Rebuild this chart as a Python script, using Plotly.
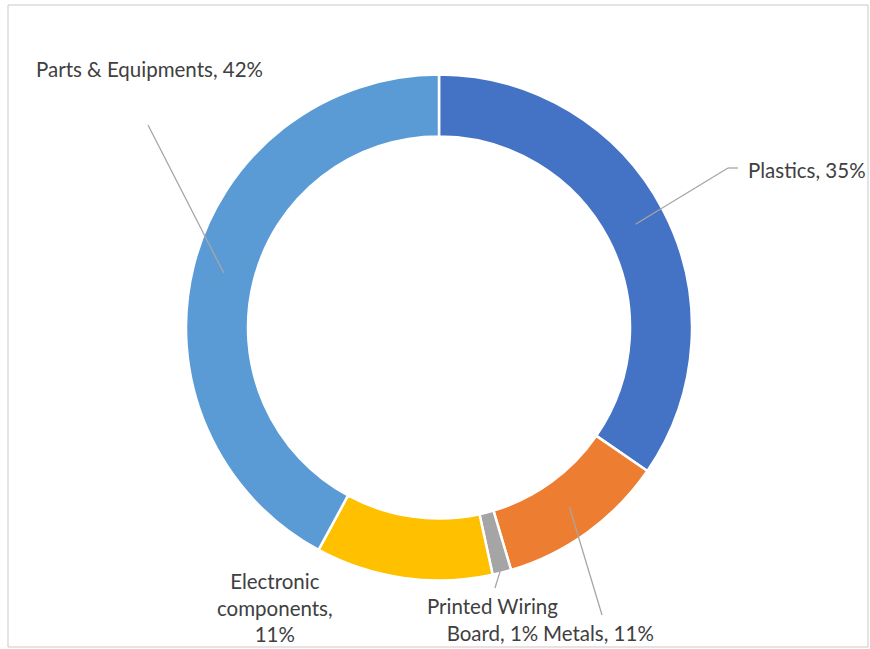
import math
import plotly.graph_objects as go

labels = ["Plastics", "Metals", "Printed Wiring Board", "Electronic components", "Parts & Equipments"]
values = [34.6, 10.8, 1.2, 11.3, 42.1]
colors = ["#4472C4", "#ED7D31", "#A5A5A5", "#FFC000", "#5B9BD5"]
label_texts = ["Plastics, 35%", "Metals, 11%", "Printed Wiring<br>Board, 1%",
               "Electronic<br>components,<br>11%", "Parts & Equipments, 42%"]

W, H = 870, 649
CX, CY, R = 439, 327.5, 253
HOLE = 0.755
FONT = "Lato"
FS = 20.5
TXT = "#404040"
LINE = "#A6A6A6"

def px(x):
    return x / W

def py(y):
    return 1 - y / H

fig = go.Figure(go.Pie(
    labels=labels, values=values, sort=False, direction="clockwise", rotation=0,
    hole=HOLE, marker=dict(colors=colors, line=dict(color="white", width=2.5)),
    textinfo="none", hoverinfo="label+percent", showlegend=False,
    domain=dict(x=[px(CX - R), px(CX + R)], y=[py(CY + R), py(CY - R)]),
))

# mid-angle of each slice (degrees clockwise from 12 o'clock)
total = sum(values)
mids = []
acc = 0
for v in values:
    mids.append((acc + v / 2) / total * 360)
    acc += v

def on_ring(i, r):
    a = math.radians(mids[i])
    return CX + r * math.sin(a), CY - r * math.cos(a)

shapes = [dict(type="rect", xref="paper", yref="paper", x0=px(8), x1=px(868),
               y0=py(647), y1=py(5), line=dict(color="#C9C9C9", width=1))]

# leader lines: (slice index, radius of start, list of end points in px)
leaders = [
    (0, 222, [(728, 168), (738, 168)]),
    (1, 222, [(602, 615)]),
    (2, 249, [(495, 588)]),
    (4, 222, [(148, 125)]),
]
for i, r, pts in leaders:
    x0, y0 = on_ring(i, r)
    for (x1, y1) in pts:
        shapes.append(dict(type="line", xref="paper", yref="paper",
                           x0=px(x0), y0=py(y0), x1=px(x1), y1=py(y1),
                           line=dict(color=LINE, width=1.3)))
        x0, y0 = x1, y1

# label positions (px) and anchors
label_pos = [
    (746, 170, "left"),
    (656, 633, "right"),
    (492, 619, "center"),
    (275, 607, "center"),
    (34, 69, "left"),
]
annotations = []
for t, (x, y, anc) in zip(label_texts, label_pos):
    annotations.append(dict(text=t, x=px(x), y=py(y), xref="paper", yref="paper",
                            xanchor=anc, yanchor="middle", showarrow=False,
                            align="center", font=dict(family=FONT, size=FS, color=TXT)))

fig.update_layout(width=W, height=H, margin=dict(l=0, r=0, t=0, b=0),
                  paper_bgcolor="white", plot_bgcolor="white",
                  shapes=shapes, annotations=annotations)

fig.write_html("out.html", config={"displayModeBar": False},
               post_script="document.body.style.margin='0';document.body.style.overflow='hidden';")
